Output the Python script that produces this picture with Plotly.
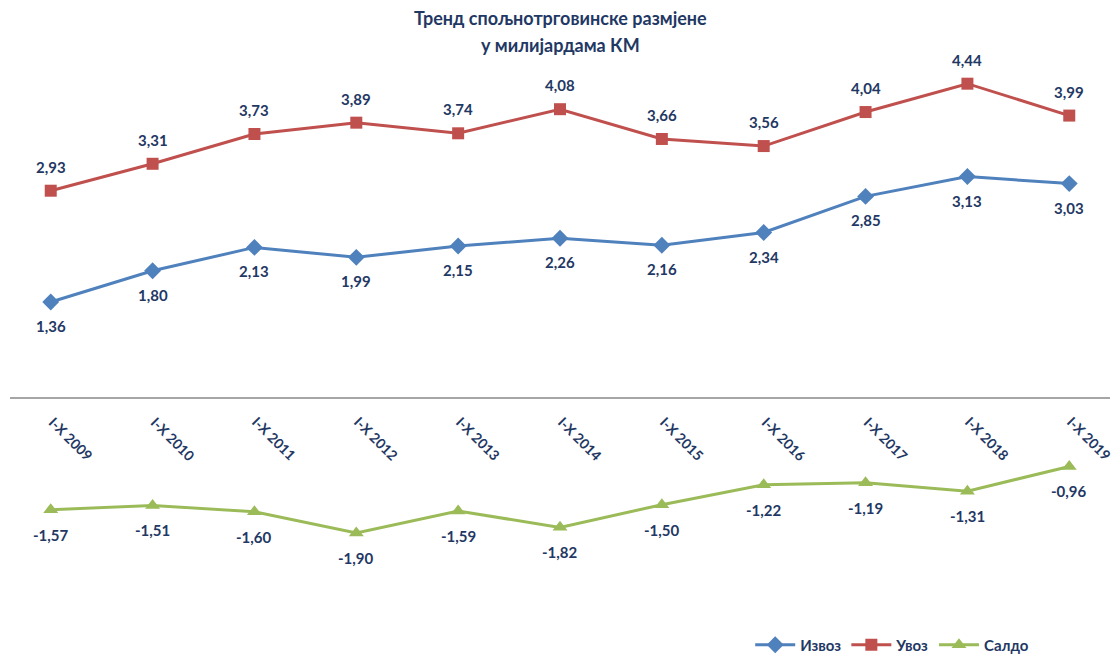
import plotly.graph_objects as go

categories = ["I-X 2009", "I-X 2010", "I-X 2011", "I-X 2012", "I-X 2013", "I-X 2014",
              "I-X 2015", "I-X 2016", "I-X 2017", "I-X 2018", "I-X 2019"]
izvoz = [1.36, 1.80, 2.13, 1.99, 2.15, 2.26, 2.16, 2.34, 2.85, 3.13, 3.03]
uvoz = [2.93, 3.31, 3.73, 3.89, 3.74, 4.08, 3.66, 3.56, 4.04, 4.44, 3.99]
saldo = [-1.57, -1.51, -1.60, -1.90, -1.59, -1.82, -1.50, -1.22, -1.19, -1.31, -0.96]
title_lines = ["Тренд спољнотрговинске размјене", "у милијардама КМ"]

NAVY = "#1F3864"
FONT = "Lato"
W, H = 1116, 654
MT, MB = 44, 43

def fmt(v):
    return f"{v:.2f}".replace(".", ",")

def py(px):
    # pixel row (from top) -> paper y
    return (H - MB - px) / (H - MT - MB)

xs = list(range(len(categories)))

fig = go.Figure()
series = [
    ("Извоз", izvoz, "#4F81BD", "diamond", 13, -24),
    ("Увоз", uvoz, "#C0504D", "square", 12, 24),
    ("Салдо", saldo, "#9BBB59", "triangle-up", 13, -25),
]
annotations = []
for name, vals, color, sym, size, shift in series:
    fig.add_trace(go.Scatter(
        x=xs, y=vals, name=name, mode="lines+markers",
        line=dict(color=color, width=3),
        marker=dict(symbol=sym, size=size, color=color),
    ))
    for x, v in zip(xs, vals):
        annotations.append(dict(
            x=x, y=v, xref="x", yref="y", text=fmt(v), showarrow=False,
            yshift=shift, xanchor="center", yanchor="middle",
            font=dict(family=FONT, size=15, color=NAVY, weight="bold"),
        ))

for x, c in zip(xs, categories):
    annotations.append(dict(
        x=x, y=0, xref="x", yref="y", text=c, showarrow=False,
        textangle=45, xshift=20, yshift=-40, xanchor="center", yanchor="middle",
        font=dict(family=FONT, size=14, color=NAVY, weight="bold"),
    ))

for txt, ypx in zip(title_lines, [18, 45]):
    annotations.append(dict(
        x=0.5, y=py(ypx), xref="paper", yref="paper", text=txt, showarrow=False,
        xanchor="center", yanchor="middle",
        font=dict(family=FONT, size=18, color=NAVY, weight="bold"),
    ))

fig.update_layout(
    width=W, height=H,
    paper_bgcolor="white", plot_bgcolor="white",
    margin=dict(l=10, r=6, t=MT, b=MB, autoexpand=False),
    xaxis=dict(range=[-0.4, 10.4], visible=False),
    yaxis=dict(range=[-3, 5], showgrid=False, showticklabels=False,
               zeroline=True, zerolinecolor="#A6A6A6", zerolinewidth=2),
    legend=dict(orientation="h", x=0.802, xanchor="center", y=py(645), yanchor="middle",
                font=dict(family=FONT, size=15, color=NAVY, weight="bold"),
                bgcolor="rgba(0,0,0,0)", itemwidth=40),
    showlegend=True,
    annotations=annotations,
)

fig.write_html("out.html", config={"displayModeBar": False},
               post_script="document.body.style.margin='0';document.body.style.overflow='hidden';")
